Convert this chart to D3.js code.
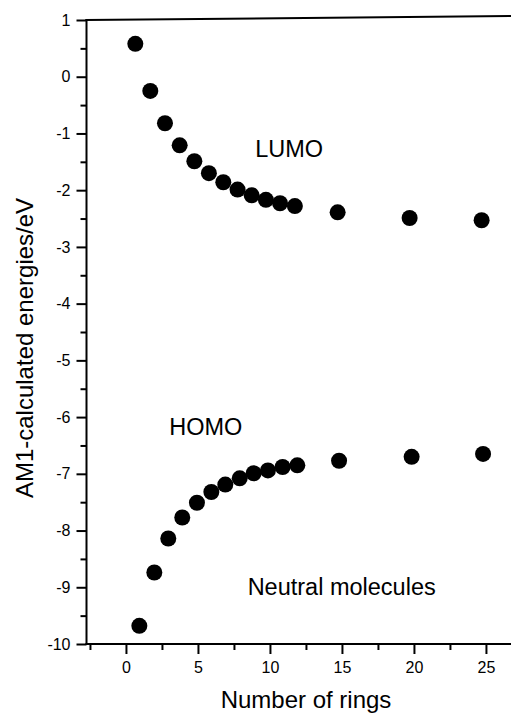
<!DOCTYPE html>
<html>
<head>
<meta charset="utf-8">
<script src="https://cdn.jsdelivr.net/npm/d3@7"></script>
<style>
  html, body { margin: 0; padding: 0; background: #fff; }
  svg { display: block; }
  text { font-family: "Liberation Sans", Arial, Helvetica, sans-serif; fill: #000; }
</style>
</head>
<body>
<script>
// ---- data ----
const lumoRings  = [0.65, 1.69, 2.71, 3.73, 4.75, 5.76, 6.76, 7.75, 8.73, 9.72, 10.7, 11.73, 14.7, 19.7, 24.7];
const lumoEnergy = [0.58, -0.25, -0.82, -1.21, -1.49, -1.70, -1.86, -1.99, -2.09, -2.17, -2.23, -2.28, -2.39, -2.49, -2.53];
const homoRings  = [0.93, 1.97, 2.94, 3.91, 4.93, 5.93, 6.90, 7.90, 8.87, 9.86, 10.88, 11.9, 14.8, 19.84, 24.8];
const homoEnergy = [-9.68, -8.74, -8.14, -7.77, -7.51, -7.32, -7.19, -7.08, -6.99, -6.94, -6.88, -6.85, -6.77, -6.70, -6.65];
const xMajorTicks = [0, 5, 10, 15, 20, 25];
const xMinorTicks = [-2.5, 2.5, 7.5, 12.5, 17.5, 22.5];
const yMajorTicks = [1, 0, -1, -2, -3, -4, -5, -6, -7, -8, -9, -10];
const yMinorTicks = [0.5, -0.5, -1.5, -2.5, -3.5, -4.5, -5.5, -6.5, -7.5, -8.5, -9.5];
const annotations = [
  { text: "LUMO", x: 8.98, y: -1.41 },
  { text: "HOMO", x: 3.01, y: -6.32 },
  { text: "Neutral molecules", x: 8.45, y: -9.13 }
];
const xTitle = "Number of rings";
const yTitle = "AM1-calculated energies/eV";

// ---- layout ----
const W = 511, H = 715;
const svg = d3.select("body").append("svg").attr("width", W).attr("height", H);

const x = d3.scaleLinear().domain([-2.74, 26.74]).range([86.5, 511]);
const y = d3.scaleLinear().domain([-10, 1]).range([644, 20]);
const fmt = d => String(d); // plain hyphen-minus as in the original

const g = svg.append("g");

// x axis
const xAxis = g.append("g").attr("transform", `translate(0,${y(-10)})`);
xAxis.call(d3.axisBottom(x).tickValues(xMajorTicks).tickSize(10).tickPadding(8).tickFormat(fmt));
xAxis.append("g").call(d3.axisBottom(x).tickValues(xMinorTicks).tickSize(6).tickFormat(""));
xAxis.selectAll(".domain").remove();
xAxis.append("line").attr("x1", x.range()[0] - 1).attr("x2", W).attr("y1", 0).attr("y2", 0)
  .attr("stroke", "#000").attr("stroke-width", 2);

// y axis
const yAxis = g.append("g").attr("transform", `translate(${x(-2.74)},0)`);
yAxis.call(d3.axisLeft(y).tickValues(yMajorTicks).tickSize(10).tickPadding(6).tickFormat(fmt));
yAxis.append("g").call(d3.axisLeft(y).tickValues(yMinorTicks).tickSize(6).tickFormat(""));
yAxis.selectAll(".domain").remove();
yAxis.append("line").attr("x1", 0).attr("x2", 0).attr("y1", y(1) - 1).attr("y2", y(-10) + 1)
  .attr("stroke", "#000").attr("stroke-width", 2);

svg.selectAll(".tick line").attr("stroke", "#000").attr("stroke-width", 2);
svg.selectAll(".tick text").style("font-size", "16px").attr("fill", "#000")
  .style("font-family", '"Liberation Sans", Arial, Helvetica, sans-serif');
xAxis.selectAll(".tick text").attr("dy", "0.71em");

// top frame line (slightly tilted as in the scan)
g.append("line").attr("x1", x.range()[0] - 1).attr("y1", y(1)).attr("x2", W).attr("y2", y(1) - 4)
  .attr("stroke", "#000").attr("stroke-width", 2);

// points
const lumo = lumoRings.map((r, i) => ({ r, e: lumoEnergy[i] }));
const homo = homoRings.map((r, i) => ({ r, e: homoEnergy[i] }));
g.append("g").selectAll("circle").data(lumo).join("circle")
  .attr("cx", d => x(d.r)).attr("cy", d => y(d.e)).attr("r", 8).attr("fill", "#000");
g.append("g").selectAll("circle").data(homo).join("circle")
  .attr("cx", d => x(d.r)).attr("cy", d => y(d.e)).attr("r", 8).attr("fill", "#000");

// annotations
g.selectAll(".ann").data(annotations).join("text").attr("class", "ann")
  .attr("x", d => x(d.x)).attr("y", d => y(d.y))
  .style("font-size", "23.5px").text(d => d.text);

// axis titles
svg.append("text").attr("x", 306).attr("y", 708).attr("text-anchor", "middle")
  .style("font-size", "24px").text(xTitle);
svg.append("text").attr("transform", `translate(33,348) rotate(-90)`).attr("text-anchor", "middle")
  .style("font-size", "24px").text(yTitle);
</script>
</body>
</html>
